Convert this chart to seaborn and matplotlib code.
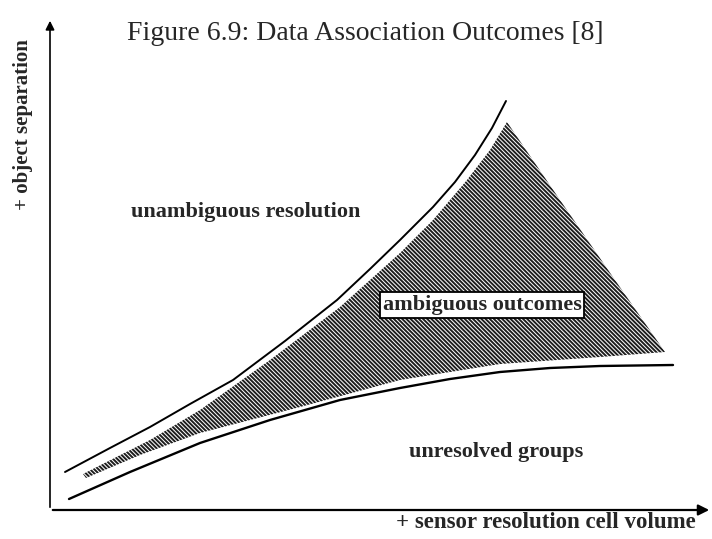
import matplotlib
matplotlib.use("Agg")
import matplotlib.pyplot as plt
import seaborn as sns

sns.set_theme(style="white")
plt.rcParams["font.family"] = ["Liberation Serif", "DejaVu Serif"]
plt.rcParams["hatch.linewidth"] = 1.4

# curve points (x: cell volume, y: object separation)
upper_x = [15, 60, 100, 140, 183, 235, 287, 320, 350, 383, 405, 425, 442, 456]
upper_y = [38, 62, 83, 106, 130, 169, 210, 241, 270, 303, 328, 355, 382, 409]
lower_x = [19, 80, 150, 220, 290, 350, 400, 450, 500, 550, 623]
lower_y = [11, 38, 67, 90, 110, 122, 131, 138, 142, 144, 145]
# ambiguous region outline (top edge, right edge, bottom edge)
amb_x = [33, 100, 150, 220, 290, 350, 383, 417, 440, 457,
         510, 565, 615,
         550, 450, 350, 250, 150, 90, 36]
amb_y = [36, 70, 100, 150, 203, 257, 290, 330, 360, 388,
         310, 230, 158,
         153, 146, 130, 103, 77, 55, 32]

labels = ["unambiguous resolution", "ambiguous outcomes", "unresolved groups"]
label_x = [196, 432, 446]
label_y = [298, 205, 58]

fig = plt.figure(figsize=(7.12, 5.39), dpi=100)
ax = fig.add_axes([50 / 712, 29 / 539, 662 / 712, 492 / 539])
ax.set_xlim(0, 662)
ax.set_ylim(0, 492)

ax.fill(amb_x, amb_y, facecolor="white", edgecolor="#1e1e1e", hatch="\\" * 8, linewidth=0)
sns.lineplot(x=upper_x, y=upper_y, color="black", linewidth=1.4, ax=ax)
sns.lineplot(x=lower_x, y=lower_y, color="black", linewidth=1.7, ax=ax)

ax.text(label_x[0], label_y[0], labels[0], ha="center", va="center", fontsize=16, fontweight="bold")
ax.text(label_x[1], label_y[1], labels[1], ha="center", va="center", fontsize=16, fontweight="bold",
        bbox=dict(boxstyle="square,pad=0.12", facecolor="white", edgecolor="black", linewidth=1.3))
ax.text(label_x[2], label_y[2], labels[2], ha="center", va="center", fontsize=16, fontweight="bold")

for s in ax.spines.values():
    s.set_visible(False)
ax.set_xticks([])
ax.set_yticks([])
ax.annotate("", xy=(1, 0), xytext=(0, 0), xycoords="axes fraction",
            arrowprops=dict(arrowstyle="-|>", color="black", lw=1.6, mutation_scale=16))
ax.annotate("", xy=(0, 1), xytext=(0, 0), xycoords="axes fraction",
            arrowprops=dict(arrowstyle="-|>", color="black", lw=1.2, mutation_scale=13))

fig.text(127 / 712, 1 - 33 / 539, "Figure 6.9: Data Association Outcomes [8]", ha="left", va="center", fontsize=20)
fig.text(546 / 712, 1 - 522 / 539, "+ sensor resolution cell volume", ha="center", va="center",
         fontsize=16.5, fontweight="bold")
fig.text(23 / 712, 1 - 125 / 539, "+ object separation", ha="center", va="center", rotation=90,
         fontsize=15, fontweight="bold")

fig.savefig("out.png", dpi=100, facecolor="white")
